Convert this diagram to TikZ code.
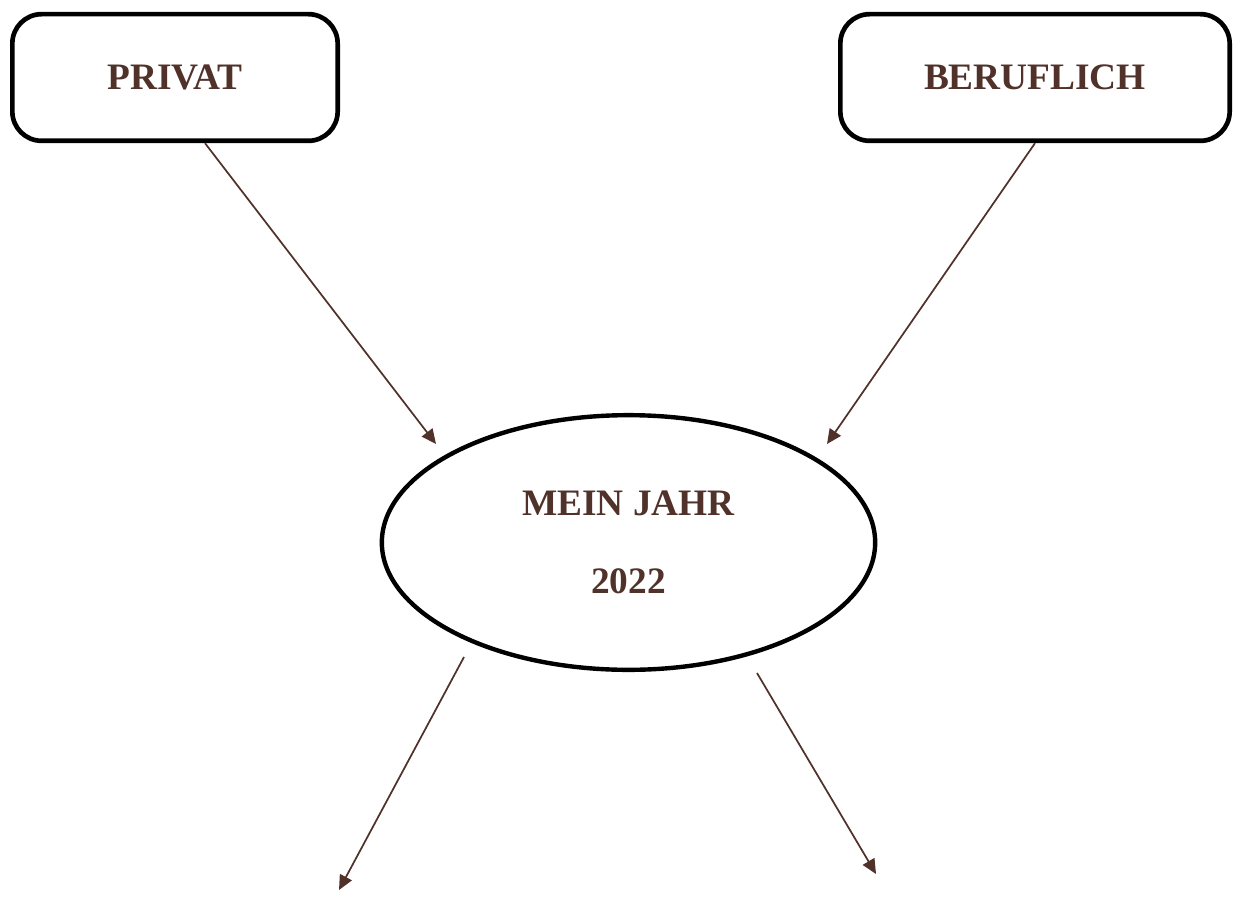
\documentclass[tikz,border=0pt]{standalone}
\usepackage{fontspec}
\setmainfont{Liberation Serif}
\usetikzlibrary{positioning}
\usetikzlibrary{shapes.geometric,arrows.meta}
\definecolor{brn}{RGB}{80,50,42}

\begin{document}
\begin{tikzpicture}
    [x=0.75pt, y=-0.75pt,
     box/.style={rectangle, rounded corners=22pt, draw=black, line width=3.5pt, minimum width=244pt, minimum height=95pt, inner sep=0pt,
                 text=brn, font=\fontsize{28}{34}\selectfont\bfseries},
     oval/.style={ellipse, draw=black, line width=3.3pt, minimum width=370pt, minimum height=191pt, inner sep=0pt, align=center,
                  text=brn, font=\fontsize{28}{59}\selectfont\bfseries},
     arr/.style={draw=brn, line width=1.3pt, -{Triangle[length=11pt, width=10pt]}}]

    \useasboundingbox (0,0) rectangle (1244,920);

    \node [box] (privat) at (175,77.5) {PRIVAT};
    \node [box, minimum width=292pt] (beruf) at (1035,77.5) {BERUFLICH};
    \node [oval] (jahr) at (628.5,542.5) {MEIN JAHR\\2022};

    \coordinate (pin) at (436,444);
    \coordinate (bin) at (827,444);
    \coordinate (lout) at (339,890);
    \coordinate (rout) at (876,874);

    \draw [arr] ([xshift=22.5pt] privat.south) -- (pin);
    \draw [arr] (beruf.south) -- (bin);
    \draw [arr] ([shift={(-164.5,114.5)}] jahr.center) -- (lout);
    \draw [arr] ([shift={(128.5,130.5)}] jahr.center) -- (rout);
\end{tikzpicture}
\end{document}
